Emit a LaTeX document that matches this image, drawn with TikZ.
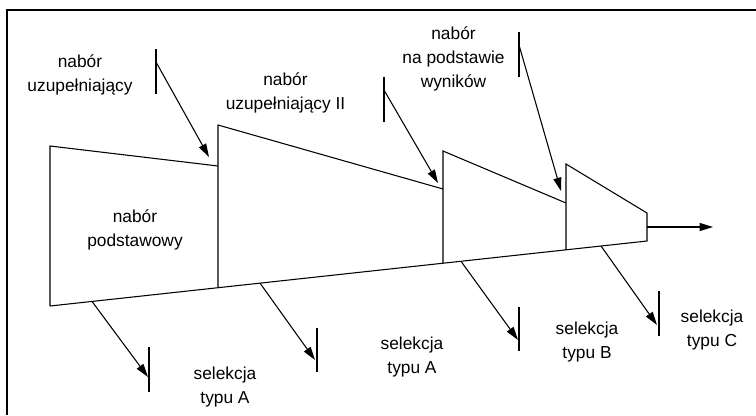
\documentclass[tikz,border=0pt]{standalone}
\usepackage{fontspec}
\setmainfont{Liberation Sans}
\usetikzlibrary{arrows.meta}
\begin{document}
\begin{tikzpicture}[x=0.75pt,y=-0.75pt,
  shape line/.style={line width=0.8pt,line join=miter},
  frame line/.style={line width=1.1pt},
  tick/.style={line width=0.8pt},
  pointer/.style={line width=0.8pt,-{Triangle[length=10pt,width=6pt]}},
  lbl/.style={align=center,inner sep=0pt,font=\fontsize{13}{18}\selectfont}]
\useasboundingbox (0,0) rectangle (756,415);
% frame (only top and left edges visible)
\draw[frame line] (7,415) -- (7,10) -- (756,10);
% corner points
\coordinate (p1t) at (50,146);
\coordinate (p1b) at (50,306);
\coordinate (p2t) at (218,125);
\coordinate (p2m) at (218,166);
\coordinate (p2b) at (218,287.7);
\coordinate (p3t) at (443,151);
\coordinate (p3m) at (443,189);
\coordinate (p3b) at (443,263.2);
\coordinate (p4t) at (566,164);
\coordinate (p4m) at (566,203);
\coordinate (p4b) at (566,249.8);
\coordinate (p5t) at (647,213);
\coordinate (p5b) at (647,241);
\coordinate (out) at (647,227);
\coordinate (outend) at (713,227);
% funnel shape
\draw[shape line] (p1b) -- (p1t) -- (p2m);
\draw[shape line] (p2b) -- (p2t) -- (p3m);
\draw[shape line] (p3b) -- (p3t) -- (p4m);
\draw[shape line] (p4b) -- (p4t) -- (p5t) -- (p5b) -- (p1b);
\draw[pointer] (out) -- (outend);
% upper ticks and arrows
\coordinate (t1a) at (156,49);  \coordinate (t1b) at (156,94);
\coordinate (s1) at (156,62);   \coordinate (e1) at (209,157);
\coordinate (t2a) at (384,77);  \coordinate (t2b) at (384,122);
\coordinate (s2) at (384,90);   \coordinate (e2) at (438,183);
\coordinate (t3a) at (519,32);  \coordinate (t3b) at (519,77);
\coordinate (s3) at (519,45);   \coordinate (e3) at (561,191);
\draw[tick] (t1a) -- (t1b);
\draw[tick] (t2a) -- (t2b);
\draw[tick] (t3a) -- (t3b);
\draw[pointer] (s1) -- (e1);
\draw[pointer] (s2) -- (e2);
\draw[pointer] (s3) -- (e3);
% lower ticks and arrows
\coordinate (u1) at (92,301.4);  \coordinate (v1) at (148,377);
\coordinate (w1a) at (149,347);  \coordinate (w1b) at (149,392);
\coordinate (u2) at (260,283.1); \coordinate (v2) at (315,360);
\coordinate (w2a) at (317,328);  \coordinate (w2b) at (317,372);
\coordinate (u3) at (461,261.3); \coordinate (v3) at (518,340);
\coordinate (w3a) at (519,307);  \coordinate (w3b) at (519,351);
\coordinate (u4) at (601,246);   \coordinate (v4) at (657,325);
\coordinate (w4a) at (659,291);  \coordinate (w4b) at (659,336);
\draw[tick] (w1a) -- (w1b);
\draw[tick] (w2a) -- (w2b);
\draw[tick] (w3a) -- (w3b);
\draw[tick] (w4a) -- (w4b);
\draw[pointer] (u1) -- (v1);
\draw[pointer] (u2) -- (v2);
\draw[pointer] (u3) -- (v3);
\draw[pointer] (u4) -- (v4);
% labels
\node[lbl] (l1) at (80,74.5) {nabór\\uzupełniający};
\node[lbl] (l2) at (285.5,93) {nabór\\uzupełniający II};
\node[lbl] (l3) at (453.5,59.3) {nabór\\na podstawie\\wyników};
\node[lbl] (l4) at (135,230) {nabór\\podstawowy};
\node[lbl] (l5) at (225,386.8) {selekcja\\typu A};
\node[lbl] (l6) at (412,356.7) {selekcja\\typu A};
\node[lbl] (l7) at (587,341.7) {selekcja\\typu B};
\node[lbl] (l8) at (712,330.5) {selekcja\\typu C};
\end{tikzpicture}
\end{document}
